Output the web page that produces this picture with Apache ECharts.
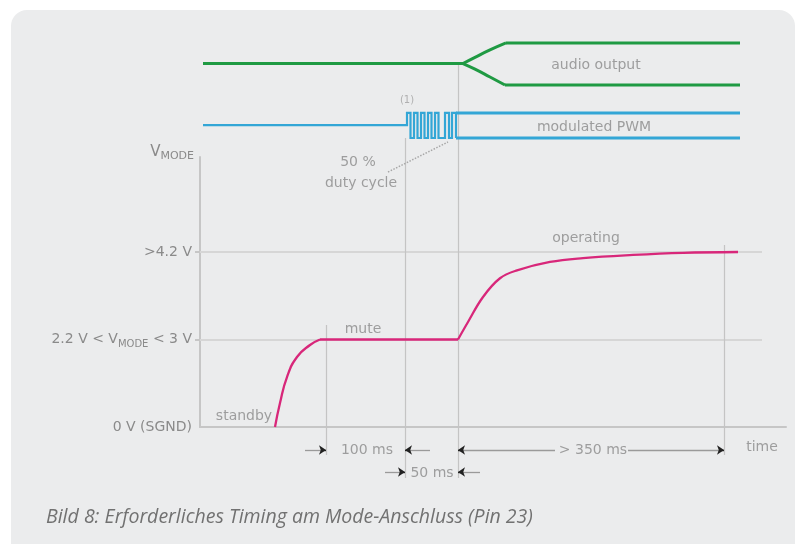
<!DOCTYPE html>
<html>
<head>
<meta charset="utf-8">
<script src="https://cdn.jsdelivr.net/npm/echarts@6/dist/echarts.min.js"></script>
<style>
html,body{margin:0;padding:0;background:#ffffff;}
#chart{width:800px;height:544px;}
</style>
</head>
<body>
<div id="chart"></div>
<script>
// ---- data (x: schematic time units, y: signal levels) ----
const levelValues = [0, 1, 2];
const levelLabels = ['0 V (SGND)', '2.2 V < V{sub|MODE} < 3 V', '>4.2 V'];
const levelGridValues = [1, 2];

// V_MODE trace: standby -> mute -> operating
const riseToMute = [[75,0],[80,0.274],[87,0.571],[97,0.8],[110,0.937],[120,1]];
const muteLevel = [[120,1],[258,1]];
const riseToOperating = [[258,1],[268,1.2],[283,1.486],[300,1.70],[317,1.79],[350,1.886],[383,1.93],[433,1.966],[483,1.99],[538,2.0]];

// audio output trace
const audioIdle = [[3,4.154],[263,4.154]];
const audioUpperSplit = [[263,4.154],[275,4.225],[290,4.309],[306,4.389]];
const audioUpper = [[306,4.389],[540,4.389]];
const audioLowerSplit = [[263,4.154],[275,4.09],[290,4.0],[305,3.909]];
const audioLower = [[305,3.909],[540,3.909]];

// PWM trace
const pwmStart = 3;
const pwmIdle = 3.451, pwmHigh = 3.589, pwmLow = 3.303;
const pwmEdges = [207,210.5,214,217.5,221,224.5,228,231.5,235,238.5,245,249,252,256];
const pwmEnd = 540;

// vertical event markers
const markerTimes   = [126, 205, 258, 524];
const markerTops    = [1.166, 3.303, 4.16, 2.08];
const markerBottoms = [-0.32, -0.583, -0.583, -0.32];

// duration arrows [from, to, row level]
const arrowFrom = [105, 230, 355, 428, 185, 280];
const arrowTo   = [126, 205, 258, 524, 205, 258];
const arrowRow  = [-0.263, -0.263, -0.263, -0.263, -0.514, -0.514];

// duty cycle pointer
const dutyPointer = [[188,2.914],[248,3.257]];

// annotations [x, y, text]
const annotations = [
  [396, 4.137, 'audio output'],
  [394, 3.43, 'modulated PWM'],
  [158, 3.023, '50 %'],
  [161, 2.789, 'duty cycle'],
  [386, 2.16, 'operating'],
  [163, 1.12, 'mute'],
  [44, 0.125, 'standby'],
  [167, -0.263, '100 ms'],
  [393, -0.263, '> 350 ms'],
  [232, -0.526, '50 ms'],
  [562, -0.229, 'time']
];
const noteSmall = [[207, 3.737, '(1)']];

const levelLineEnd = 562;
const xMax = 586, yMax = 3.0857;

// ---- build ----
const pwmPts = [[pwmStart, pwmIdle], [pwmEdges[0], pwmIdle]];
let hi = false;
pwmEdges.forEach((e, i) => {
  const from = hi ? pwmHigh : (i === 0 ? pwmIdle : pwmLow);
  hi = !hi;
  pwmPts.push([e, from]);
  pwmPts.push([e, hi ? pwmHigh : pwmLow]);
});
const lastEdge = pwmEdges[pwmEdges.length - 1];
const pwmUpper = [[lastEdge, pwmHigh], [pwmEnd, pwmHigh]];
const pwmLower = [[lastEdge, pwmLow], [pwmEnd, pwmLow]];

const txt = '#8a8a8a';
const font = 'DejaVu Sans';
const green = '#1f9a43';
const blue = '#33a6d6';
const magenta = '#d8277a';

function trace(data, color, width, smooth) {
  return {type: 'line', data: data, clip: false, smooth: smooth || false, symbol: 'none', z: 4,
    lineStyle: {color: color, width: width, join: 'miter'}};
}

const chart = echarts.init(document.getElementById('chart'), null, {renderer: 'canvas'});
chart.setOption({
  animation: false,
  backgroundColor: '#ffffff',
  graphic: [{
    type: 'rect', z: -10, silent: true,
    shape: {x: 11, y: 10, width: 784, height: 560, r: 16},
    style: {fill: '#ebeced'}
  }],
  title: {
    text: 'Bild 8: Erforderliches Timing am Mode-Anschluss (Pin 23)',
    left: 41, top: 502,
    textStyle: {fontFamily: 'Open Sans', fontStyle: 'italic', fontWeight: 'normal', fontSize: 19.5, color: '#717171'}
  },
  grid: {left: 200, right: 14, top: 157, bottom: 117},
  xAxis: {
    type: 'value', min: 0, max: xMax,
    axisLine: {show: true, lineStyle: {color: '#c6c6c6', width: 2}},
    axisTick: {show: false}, axisLabel: {show: false}, splitLine: {show: false}
  },
  yAxis: {
    type: 'value', min: 0, max: yMax,
    name: 'V{sub|MODE}', nameLocation: 'end', nameGap: 5,
    nameTextStyle: {color: txt, fontFamily: font, fontSize: 15, align: 'right', verticalAlign: 'middle',
      padding: [0, 6, 0, 0], lineHeight: 20,
      rich: {sub: {fontSize: 11, color: txt, fontFamily: font, verticalAlign: 'bottom', lineHeight: 12}}},
    axisLine: {show: true, lineStyle: {color: '#c6c6c6', width: 2}},
    axisTick: {show: true, customValues: levelGridValues, length: 5, lineStyle: {color: '#c6c6c6', width: 2}},
    axisLabel: {
      customValues: levelValues, margin: 8, color: txt, fontFamily: font, fontSize: 14, lineHeight: 20,
      formatter: v => levelLabels[levelValues.indexOf(v)] || '',
      rich: {sub: {fontSize: 10, color: txt, fontFamily: font, verticalAlign: 'bottom', lineHeight: 12}}
    },
    splitLine: {show: false}
  },
  series: [
    {type: 'lines', coordinateSystem: 'cartesian2d', clip: false, z: 1,
      lineStyle: {color: '#d6d6d6', width: 2, opacity: 1},
      data: levelGridValues.map(v => ({coords: [[0, v], [levelLineEnd, v]]}))},
    {type: 'lines', coordinateSystem: 'cartesian2d', clip: false, z: 1,
      lineStyle: {color: '#c4c4c4', width: 1.2, opacity: 1},
      data: markerTimes.map((t, i) => ({coords: [[t, markerBottoms[i]], [t, markerTops[i]]]}))},
    {type: 'lines', coordinateSystem: 'cartesian2d', clip: false, z: 2,
      lineStyle: {color: '#a8a8a8', width: 1.5, type: [1.5, 1.5], opacity: 1},
      data: [{coords: dutyPointer}]},
    {type: 'lines', coordinateSystem: 'cartesian2d', clip: false, z: 2,
      lineStyle: {color: '#9a9a9a', width: 1.3, opacity: 1},
      data: arrowFrom.map((f, i) => ({coords: [[f, arrowRow[i]], [arrowTo[i], arrowRow[i]]]}))},
    {type: 'lines', coordinateSystem: 'cartesian2d', clip: false, z: 3,
      symbol: ['none', 'arrow'], symbolSize: 7,
      lineStyle: {color: '#222222', width: 1.3, opacity: 1},
      data: arrowFrom.map((f, i) => {
        const d = arrowTo[i] > f ? 1 : -1;
        return {coords: [[arrowTo[i] - d * 3, arrowRow[i]], [arrowTo[i], arrowRow[i]]]};
      })},
    trace(riseToMute, magenta, 2.3, 0.5),
    trace(muteLevel, magenta, 2.3),
    trace(riseToOperating, magenta, 2.3, 0.4),
    trace(audioIdle, green, 3),
    trace(audioUpperSplit, green, 3, 0.5),
    trace(audioUpper, green, 3),
    trace(audioLowerSplit, green, 3, 0.5),
    trace(audioLower, green, 3),
    trace(pwmPts, blue, 2.2),
    trace(pwmUpper, blue, 3),
    trace(pwmLower, blue, 3),
    {type: 'scatter', data: annotations, clip: false, symbolSize: 0, z: 5,
      label: {show: true, position: 'inside', formatter: p => p.data[2], color: txt, fontFamily: font, fontSize: 14}},
    {type: 'scatter', data: noteSmall, clip: false, symbolSize: 0, z: 5,
      label: {show: true, position: 'inside', formatter: p => p.data[2], color: '#a0a0a0', fontFamily: font, fontSize: 10}}
  ]
});
</script>
</body>
</html>
